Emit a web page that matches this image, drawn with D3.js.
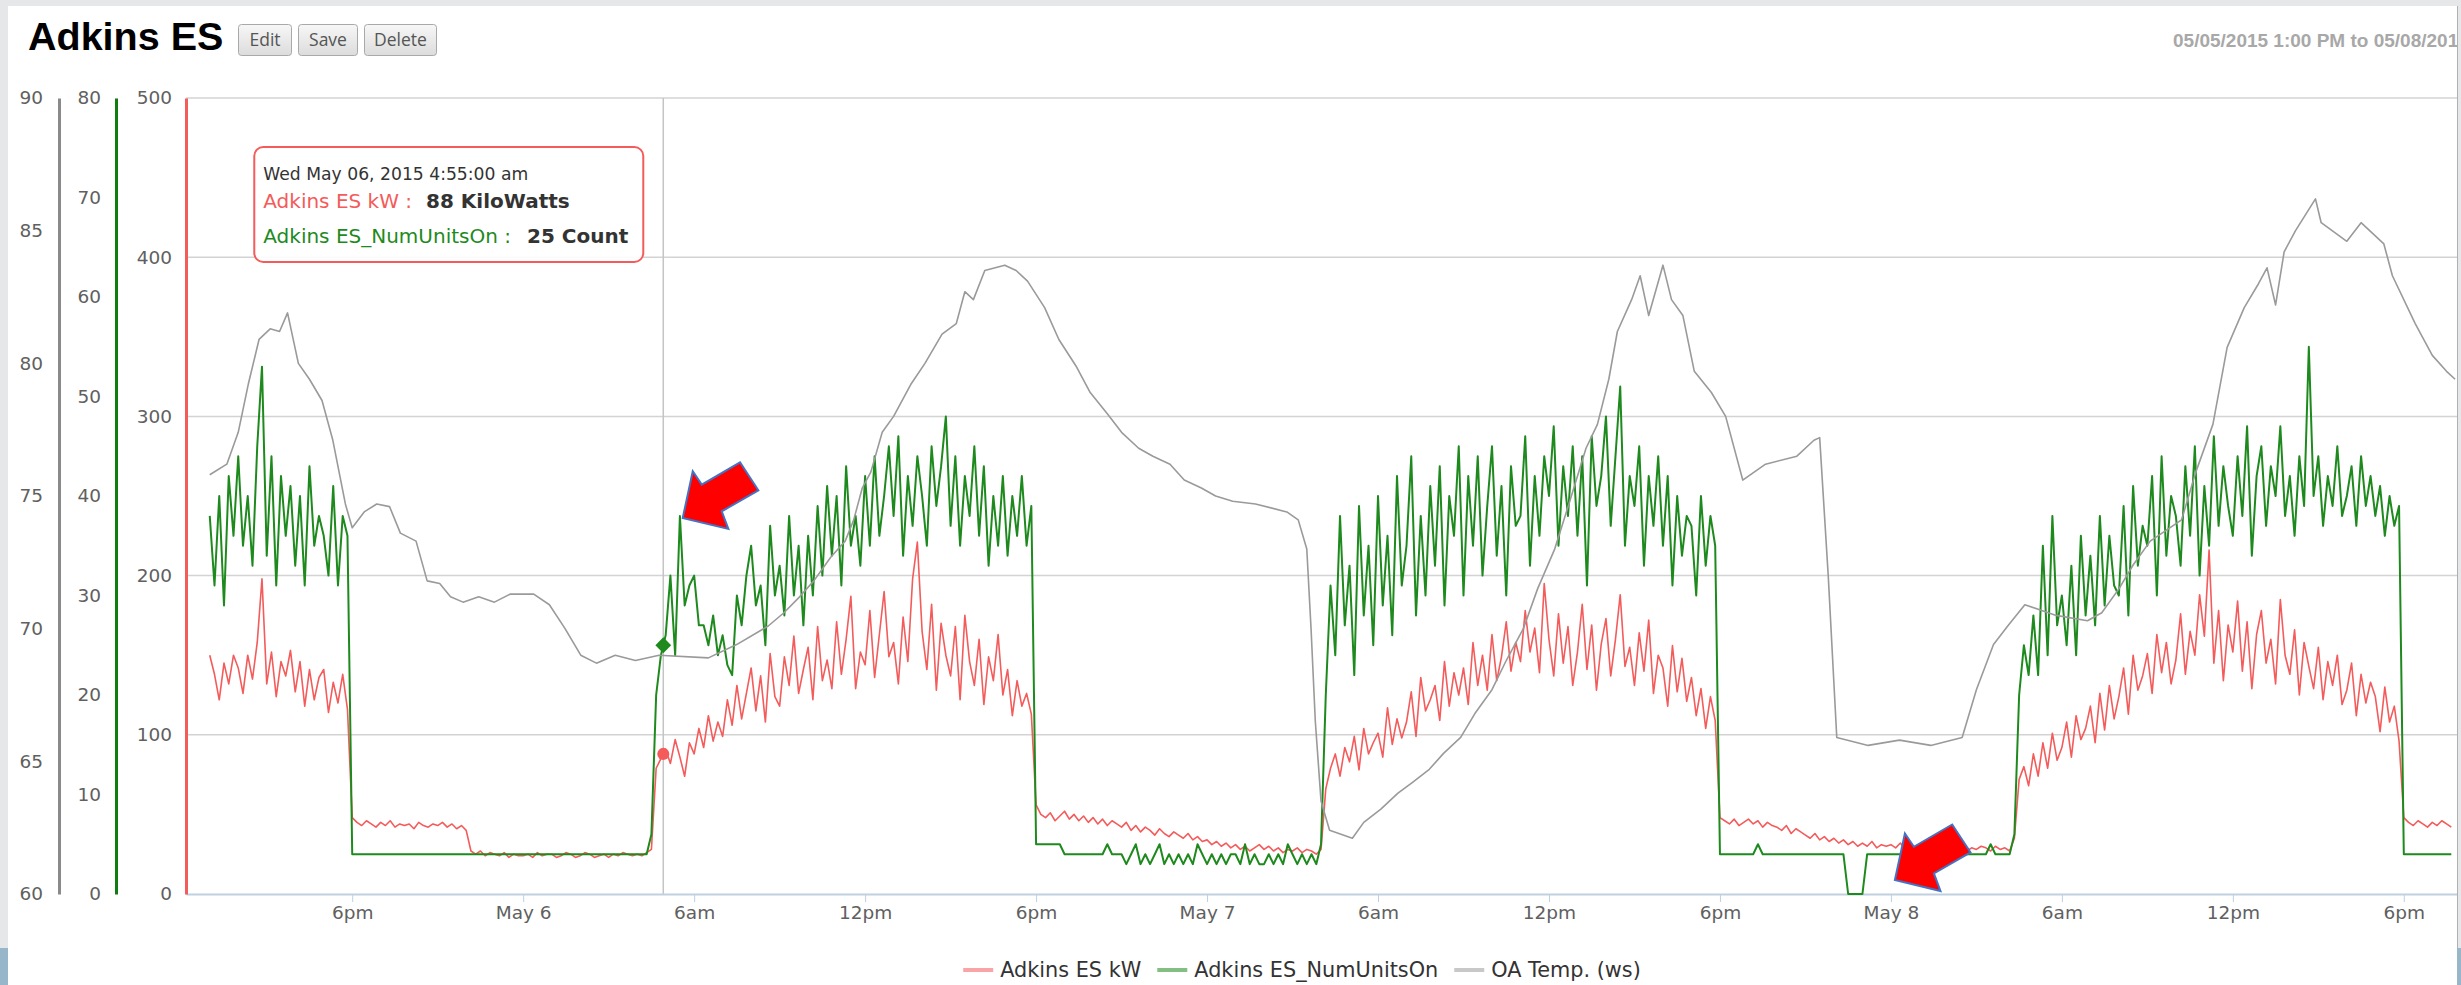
<!DOCTYPE html>
<html><head><meta charset="utf-8">
<script src="https://cdn.jsdelivr.net/npm/d3@7"></script>
<style>
html,body{margin:0;padding:0;background:#e6e7e9;overflow:hidden;}
svg{display:block;}
</style></head><body>
<svg id="chart" width="2461" height="985"></svg>
<script>
// ---------------- DATA ----------------
const seriesStart = [2015, 4, 5, 13, 0];   // 05/05/2015 1:00 PM (local)
const stepMinutes = 10;

// Adkins ES kW, every 10 minutes
const kwValues = [
150,138,122,145,132,150, 142,126,150,135,158,198, 132,152,124,146,137,153, 127,146,118,141,122,136, 141,114,133,120,138,116,
48,45,43,46,44,42, 45,43,46,42,44,43, 44,41,45,43,42,44, 43,45,42,44,41,43, 40,27,25,27,24,26,
25,24,26,23,25,24, 24,25,23,26,24,25, 25,23,24,26,25,23, 24,26,25,23,24,25, 23,25,24,26,25,24,
25,24,26,28,79,85, 91,82,97,86,74,95, 88,104,92,112,96,108, 99,122,106,131,110,126, 142,115,137,108,151,124,
118,149,131,162,126,141, 155,122,168,134,147,129, 171,138,160,187,129,152, 144,178,136,163,190,149, 158,132,174,146,198,221,
165,141,182,128,170,150, 137,168,122,175,146,131, 160,119,149,134,163,125, 141,112,134,118,126,113,
56,50,48,51,46,49, 52,47,50,46,49,45, 48,44,47,43,46,44, 42,45,40,43,39,42, 40,37,41,38,36,39,
37,35,38,34,36,33, 34,31,33,30,32,29, 31,28,30,27,29,31, 28,30,27,29,26,28, 27,29,26,28,27,25,
28,66,79,88,74,92, 83,99,78,104,88,95, 101,86,117,94,110,98, 108,127,99,136,115,122, 131,109,146,118,139,125,
142,119,158,131,150,128, 163,134,149,171,140,158, 146,178,152,167,139,195, 160,137,176,145,168,131, 152,182,141,169,128,157,
173,137,160,188,143,155, 131,164,140,172,126,150, 142,118,156,127,148,121, 136,112,129,104,124,109,
48,46,44,47,43,45, 47,44,46,42,45,43, 42,40,43,38,41,39, 37,35,38,34,36,33, 35,32,34,31,33,30,
32,30,33,29,31,30, 31,29,32,28,30,29, 30,28,31,29,27,30, 29,31,28,30,27,29, 28,30,29,27,30,28,
29,27,35,72,80,68, 88,74,95,79,101,84, 92,108,86,112,97,104, 118,95,126,103,131,110, 124,142,113,150,128,137,
151,126,163,139,158,132, 147,176,138,165,150,188, 162,216,145,178,134,169, 152,184,140,171,129,163, 178,145,160,132,185,150,
138,166,125,158,143,129, 155,122,146,131,150,119, 128,145,112,138,120,133, 124,102,130,108,118,96,
48,45,43,46,44,42, 45,43,46,44,42
];

// Adkins ES_NumUnitsOn, every 10 minutes
const unitsValues = [
38,31,40,29,42,36, 44,35,40,33,45,53, 34,44,31,42,36,41, 33,40,31,43,35,38, 36,32,41,31,38,36,
4,4,4,4,4,4, 4,4,4,4,4,4, 4,4,4,4,4,4, 4,4,4,4,4,4, 4,4,4,4,4,4,
4,4,4,4,4,4, 4,4,4,4,4,4, 4,4,4,4,4,4, 4,4,4,4,4,4, 4,4,4,4,4,4,
4,4,4,6,20,24, 26,32,24,38,29,31, 32,27,27,25,28,24, 26,23,22,30,27,32, 35,29,31,25,37,30,
33,28,38,30,35,27, 36,30,39,32,41,34, 40,31,43,35,38,33, 42,35,44,36,40,45, 38,46,34,42,37,44,
40,35,45,39,43,48, 37,44,35,42,38,45, 36,43,33,40,35,42, 34,40,36,42,35,39,
5,5,5,5,5,5, 4,4,4,4,4,4, 4,4,4,5,4,4, 4,3,4,5,3,4, 3,4,5,3,4,3,
4,3,4,3,5,4, 3,4,3,4,3,4, 4,3,5,3,4,3, 3,4,3,4,3,5, 4,3,4,3,4,3,
5,20,31,24,38,27, 33,22,39,28,35,25, 40,29,36,26,42,31, 35,44,28,38,30,41, 33,43,29,40,36,45,
30,42,35,44,32,39, 45,34,41,30,43,37, 38,46,33,42,36,44, 40,47,35,43,38,45, 36,44,31,46,39,42,
48,37,44,51,35,42, 39,45,33,42,37,44, 35,42,31,40,34,38, 37,30,40,33,38,35,
4,4,4,4,4,4, 4,4,5,4,4,4, 4,4,4,4,4,4, 4,4,4,4,4,4, 4,4,4,0,0,0,
0,4,4,4,4,4, 4,4,4,4,4,4, 4,4,4,4,4,4, 4,4,4,4,4,4, 4,4,4,5,4,4,
4,4,6,20,25,22, 28,22,35,24,38,27, 30,25,33,24,36,28, 34,27,38,29,36,31, 30,39,28,41,33,37,
35,42,30,44,34,40, 38,33,43,36,45,32, 41,35,46,37,43,39, 36,44,38,47,34,42, 45,37,43,40,47,38,
42,36,44,39,55,40, 44,37,42,39,45,38, 40,43,37,44,39,42, 38,41,36,40,37,39,
4,4,4,4,4,4, 4,4,4,4,4
];

// OA Temp. (ws): [hours since 05/05/2015 00:00, deg F]
const tempReadings = [
[13.0,75.8],[13.6,76.2],[14.0,77.4],[14.35,79.2],[14.73,80.9],[15.12,81.3],[15.45,81.2],[15.73,81.9],[16.11,80.0],[16.5,79.4],
[16.94,78.6],[17.32,77.1],[17.76,74.7],[18.0,73.8],[18.42,74.4],[18.86,74.7],[19.31,74.6],[19.69,73.6],[20.24,73.3],[20.63,71.8],
[21.07,71.7],[21.45,71.2],[21.89,71.0],[22.44,71.2],[22.99,71.0],[23.54,71.3],[24.37,71.3],[24.92,70.9],[25.47,70.0],[26.02,69.0],
[26.57,68.7],[27.23,69.0],[27.94,68.8],[28.77,69.0],[30.5,68.9],[31.49,69.4],[32.6,70.1],[33.15,70.6],[33.7,71.2],[34.2,71.8],
[34.8,72.7],[35.3,73.3],[35.6,74.1],[35.9,75.3],[36.2,75.9],[36.6,77.4],[37.0,78.0],[37.6,79.2],[38.1,80.0],[38.7,81.1],
[39.2,81.5],[39.5,82.7],[39.8,82.4],[40.2,83.5],[40.9,83.7],[41.3,83.5],[41.7,83.1],[42.3,82.1],[42.8,80.9],[43.4,79.9],
[43.9,78.9],[44.5,78.1],[45.0,77.4],[45.6,76.8],[46.1,76.5],[46.7,76.2],[47.2,75.6],[47.8,75.3],[48.3,75.0],[48.9,74.8],
[49.7,74.7],[50.8,74.4],[51.2,74.1],[51.5,73.0],[51.65,70.0],[51.8,66.5],[52.0,63.5],[52.3,62.4],[53.1,62.1],[53.5,62.7],
[54.1,63.2],[54.7,63.8],[55.2,64.2],[55.8,64.7],[56.3,65.3],[56.9,65.9],[57.4,66.8],[58.0,67.7],[58.5,68.8],[59.1,70.0],
[59.6,71.5],[60.2,73.0],[60.7,74.7],[61.3,76.8],[61.7,77.7],[62.1,79.4],[62.4,81.2],[62.9,82.4],[63.2,83.3],[63.5,81.8],
[64.0,83.7],[64.3,82.4],[64.7,81.8],[65.1,79.7],[65.7,78.9],[66.2,78.0],[66.8,75.6],[67.6,76.2],[68.7,76.5],[69.3,77.1],
[69.5,77.2],[69.8,72.0],[70.1,65.9],[71.2,65.6],[72.3,65.8],[73.4,65.6],[74.5,65.9],[75.0,67.7],[75.6,69.4],[76.1,70.1],
[76.7,70.9],[77.8,70.5],[78.9,70.3],[79.4,70.6],[80.0,71.5],[80.5,72.4],[81.1,73.3],[82.2,74.1],[82.7,75.9],[83.3,77.7],
[83.8,80.6],[84.4,82.1],[84.9,83.0],[85.2,83.6],[85.5,82.2],[85.8,84.2],[86.2,85.0],[86.9,86.2],[87.1,85.3],[88.0,84.6],
[88.5,85.3],[89.3,84.5],[89.6,83.3],[90.4,81.5],[91.0,80.3],[91.5,79.7],[91.8,79.4]
];

const kwTicks = [0, 100, 200, 300, 400, 500];
const unitsTicks = [0, 10, 20, 30, 40, 50, 60, 70, 80];
const tempTicks = [60, 65, 70, 75, 80, 85, 90];

const seriesNames = ["Adkins ES kW", "Adkins ES_NumUnitsOn", "OA Temp. (ws)"];
const seriesColors = ["#f45b5b", "#1e8a1e", "#9a9a9a"];

// tooltip (hovered point)
const tooltipTime = [2015, 4, 6, 4, 55];
const tooltipHeader = "Wed May 06, 2015 4:55:00 am";
const tooltipKw = 88, tooltipUnits = 25;
const tooltipUnitsText = ["KiloWatts", "Count"];

// annotation arrows: [hours since May 5 00:00, NumUnitsOn value at tip]
const arrowTips = [[29.6, 37.8], [72.14, 1.4]];

const pageTitle = "Adkins ES";
const buttonLabels = ["Edit", "Save", "Delete"];
const rangeText = "05/05/2015 1:00 PM to 05/08/2015 7:45 PM";

// ---------------- LAYOUT ----------------
const svg = d3.select("#chart");
const plot = {left: 186, right: 2457, top: 98, bottom: 894};
const panel = {x: 8, y: 6, right: 2457};

const base = new Date(2015, 4, 5, 0, 0);
const hoursToDate = h => new Date(base.getTime() + h * 3600e3);
const startDate = new Date(...seriesStart);

const x = d3.scaleTime()
  .domain([new Date(2015, 4, 5, 12, 10), new Date(2015, 4, 8, 19, 52)])
  .range([plot.left, plot.right]);
const yKw = d3.scaleLinear().domain([0, 500]).range([plot.bottom, plot.top]);
const yUnits = d3.scaleLinear().domain([0, 80]).range([plot.bottom, plot.top]);
const yTemp = d3.scaleLinear().domain([60, 90]).range([plot.bottom, plot.top]);

const toSeries = vals => vals.map((v, i) => ({t: new Date(startDate.getTime() + i * stepMinutes * 60e3), v}));
const kwData = toSeries(kwValues);
const unitsData = toSeries(unitsValues);
const tempData = tempReadings.map(([h, v]) => ({t: hoursToDate(h), v}));

// page background pieces
svg.append("rect").attr("x", 0).attr("y", 0).attr("width", 2461).attr("height", 985).attr("fill", "#e6e7e9");
svg.append("rect").attr("x", panel.x).attr("y", panel.y).attr("width", panel.right - panel.x).attr("height", 985 - panel.y).attr("fill", "#ffffff");
svg.append("rect").attr("x", 0).attr("y", 948).attr("width", panel.x).attr("height", 37).attr("fill", "#98b6ca");
svg.append("rect").attr("x", panel.right).attr("y", 948).attr("width", 2461 - panel.right).attr("height", 37).attr("fill", "#98b6ca");
svg.append("line").attr("x1", panel.right + 0.5).attr("x2", panel.right + 0.5).attr("y1", panel.y).attr("y2", 948)
  .attr("stroke", "#b0b0b0").attr("stroke-width", 1);

svg.append("clipPath").attr("id", "panelClip").append("rect")
  .attr("x", panel.x).attr("y", panel.y).attr("width", panel.right - panel.x).attr("height", 985 - panel.y);

const root = svg.append("g").attr("clip-path", "url(#panelClip)");

// title + buttons
root.append("text").attr("x", 28).attr("y", 50).text(pageTitle)
  .attr("font-family", "'Liberation Sans', Arial, sans-serif").attr("font-weight", "bold")
  .attr("font-size", 39.5).attr("fill", "#000");

const grad = svg.append("defs").append("linearGradient").attr("id", "btnGrad").attr("x1", 0).attr("x2", 0).attr("y1", 0).attr("y2", 1);
grad.append("stop").attr("offset", "0%").attr("stop-color", "#f7f7f7");
grad.append("stop").attr("offset", "100%").attr("stop-color", "#dcdcdc");
const btnX = [238, 298, 364], btnW = [53, 59, 72];
buttonLabels.forEach((b, i) => {
  const g = root.append("g").attr("transform", `translate(${btnX[i]},24)`);
  g.append("rect").attr("x", 0.5).attr("y", 0.5).attr("width", btnW[i]).attr("height", 31).attr("rx", 3)
    .attr("fill", "url(#btnGrad)").attr("stroke", "#a9a9a9");
  g.append("text").attr("x", btnW[i] / 2 + 0.5).attr("y", 22).attr("text-anchor", "middle").text(b)
    .attr("font-family", "'Open Sans', sans-serif").attr("font-size", 17.5).attr("fill", "#555");
});

// date range (cut off by the panel edge, as in the original page)
root.append("text").attr("x", 2173).attr("y", 47).text(rangeText)
  .attr("font-family", "'Liberation Sans', Arial, sans-serif").attr("font-weight", "bold")
  .attr("font-size", 19).attr("fill", "#a8a8a8");

// grid lines (kW axis)
root.append("g").selectAll("line").data(kwTicks.filter(d => d > 0)).join("line")
  .attr("x1", plot.left).attr("x2", plot.right)
  .attr("y1", d => yKw(d)).attr("y2", d => yKw(d))
  .attr("stroke", "#d3d3d3").attr("stroke-width", 1.5);

// crosshair
const tipDate = new Date(...tooltipTime);
root.append("line").attr("x1", x(tipDate)).attr("x2", x(tipDate)).attr("y1", plot.top).attr("y2", plot.bottom)
  .attr("stroke", "#c4c4c4").attr("stroke-width", 1.5);

// x axis
const fmtTick = d => {
  const h = d.getHours();
  if (h === 0) return d3.timeFormat("%b %-d")(d);
  return (h % 12 || 12) + (h < 12 ? "am" : "pm");
};
const xAxis = root.append("g").attr("transform", `translate(0,${plot.bottom})`)
  .call(d3.axisBottom(x).tickValues(d3.timeHour.every(6).range(x.domain()[0], x.domain()[1])).tickFormat(fmtTick)
    .tickSize(8).tickSizeOuter(0).tickPadding(4));
xAxis.select(".domain").attr("stroke", "#c0d0e0").attr("stroke-width", 2);
xAxis.selectAll(".tick line").attr("stroke", "#c0d0e0").attr("stroke-width", 1);
xAxis.selectAll(".tick text").attr("font-family", "'DejaVu Sans', Verdana, sans-serif").attr("font-size", 18.5).attr("fill", "#606060");

// y axes
function yAxis(scale, ticks, xPos, color, pad) {
  const g = root.append("g").attr("transform", `translate(${xPos},0)`)
    .call(d3.axisLeft(scale).tickValues(ticks).tickSize(0).tickPadding(pad));
  g.select(".domain").attr("stroke", color).attr("stroke-width", 3);
  g.selectAll(".tick text").attr("font-family", "'DejaVu Sans', Verdana, sans-serif").attr("font-size", 18.5).attr("fill", "#606060");
  return g;
}
yAxis(yTemp, tempTicks, 59, "#8a8a8a", 16);
yAxis(yUnits, unitsTicks, 116, "#0f7d0f", 15);
yAxis(yKw, kwTicks, 186, seriesColors[0], 14);

// series
svg.append("clipPath").attr("id", "plotClip").append("rect")
  .attr("x", plot.left).attr("y", plot.top - 4).attr("width", plot.right - plot.left).attr("height", plot.bottom - plot.top + 7);
const series = root.append("g").attr("clip-path", "url(#plotClip)");
const lineKw = d3.line().x(d => x(d.t)).y(d => yKw(d.v));
const lineUnits = d3.line().x(d => x(d.t)).y(d => yUnits(d.v));
const lineTemp = d3.line().x(d => x(d.t)).y(d => yTemp(d.v));
series.append("path").attr("d", lineKw(kwData)).attr("fill", "none").attr("stroke", seriesColors[0]).attr("stroke-width", 1.6).attr("stroke-linejoin", "round");
series.append("path").attr("d", lineUnits(unitsData)).attr("fill", "none").attr("stroke", seriesColors[1]).attr("stroke-width", 2).attr("stroke-linejoin", "round");
series.append("path").attr("d", lineTemp(tempData)).attr("fill", "none").attr("stroke", seriesColors[2]).attr("stroke-width", 1.6).attr("stroke-linejoin", "round");

// hover markers
root.append("path").attr("d", d3.symbol(d3.symbolSquare, 125)())
  .attr("transform", `translate(${x(tipDate)},${yUnits(tooltipUnits)}) rotate(45)`).attr("fill", seriesColors[1]);
root.append("path").attr("d", d3.symbol(d3.symbolCircle, 115)())
  .attr("transform", `translate(${x(tipDate)},${yKw(tooltipKw)})`).attr("fill", seriesColors[0]);

// tooltip
const tip = root.append("g").attr("transform", `translate(${x(tipDate) - 20 - 389},147)`);
tip.append("rect").attr("x", 0).attr("y", 0).attr("width", 389).attr("height", 115).attr("rx", 9)
  .attr("fill", "rgba(255,255,255,0.9)").attr("stroke", seriesColors[0]).attr("stroke-width", 2);
const tfont = "'DejaVu Sans', Verdana, sans-serif";
tip.append("text").attr("x", 9).attr("y", 33).text(tooltipHeader).attr("font-family", tfont).attr("font-size", 17.2).attr("fill", "#333");
const l2 = tip.append("text").attr("x", 9).attr("y", 61).attr("font-family", tfont).attr("font-size", 20);
l2.append("tspan").attr("fill", seriesColors[0]).text(seriesNames[0] + " :");
l2.append("tspan").attr("dx", 14).attr("font-weight", "bold").attr("fill", "#333").text(tooltipKw + " " + tooltipUnitsText[0]);
const l3 = tip.append("text").attr("x", 9).attr("y", 96).attr("font-family", tfont).attr("font-size", 20);
l3.append("tspan").attr("fill", seriesColors[1]).text(seriesNames[1] + " :");
l3.append("tspan").attr("dx", 16).attr("font-weight", "bold").attr("fill", "#333").text(tooltipUnits + " " + tooltipUnitsText[1]);

// annotation arrows (offsets relative to the tip)
const arrowShape = [[0,0],[10,-46.6],[19,-33.3],[57.3,-55.6],[75.6,-27.6],[39,-6.6],[45.6,11]];
arrowTips.forEach(([h, v]) => {
  const tx = x(hoursToDate(h)), ty = yUnits(v);
  root.append("polygon").attr("points", arrowShape.map(([dx, dy]) => `${tx + dx},${ty + dy}`).join(" "))
    .attr("fill", "#ff0000").attr("stroke", "#4472c4").attr("stroke-width", 2).attr("stroke-linejoin", "miter");
});

// legend
const legend = root.append("g");
let lx = 0;
seriesNames.forEach((name, i) => {
  const g = legend.append("g").attr("transform", `translate(${lx},0)`);
  g.append("line").attr("x1", 0).attr("x2", 30).attr("y1", 0).attr("y2", 0)
    .attr("stroke", seriesColors[i]).attr("stroke-opacity", 0.55).attr("stroke-width", 4);
  const t = g.append("text").attr("x", 37).attr("y", 7).text(name)
    .attr("font-family", tfont).attr("font-size", 20.8).attr("fill", "#333");
  lx += 37 + t.node().getComputedTextLength() + 16;
});
const legendW = lx - 16;
legend.attr("transform", `translate(${1302 - legendW / 2},970)`);
</script></body></html>
